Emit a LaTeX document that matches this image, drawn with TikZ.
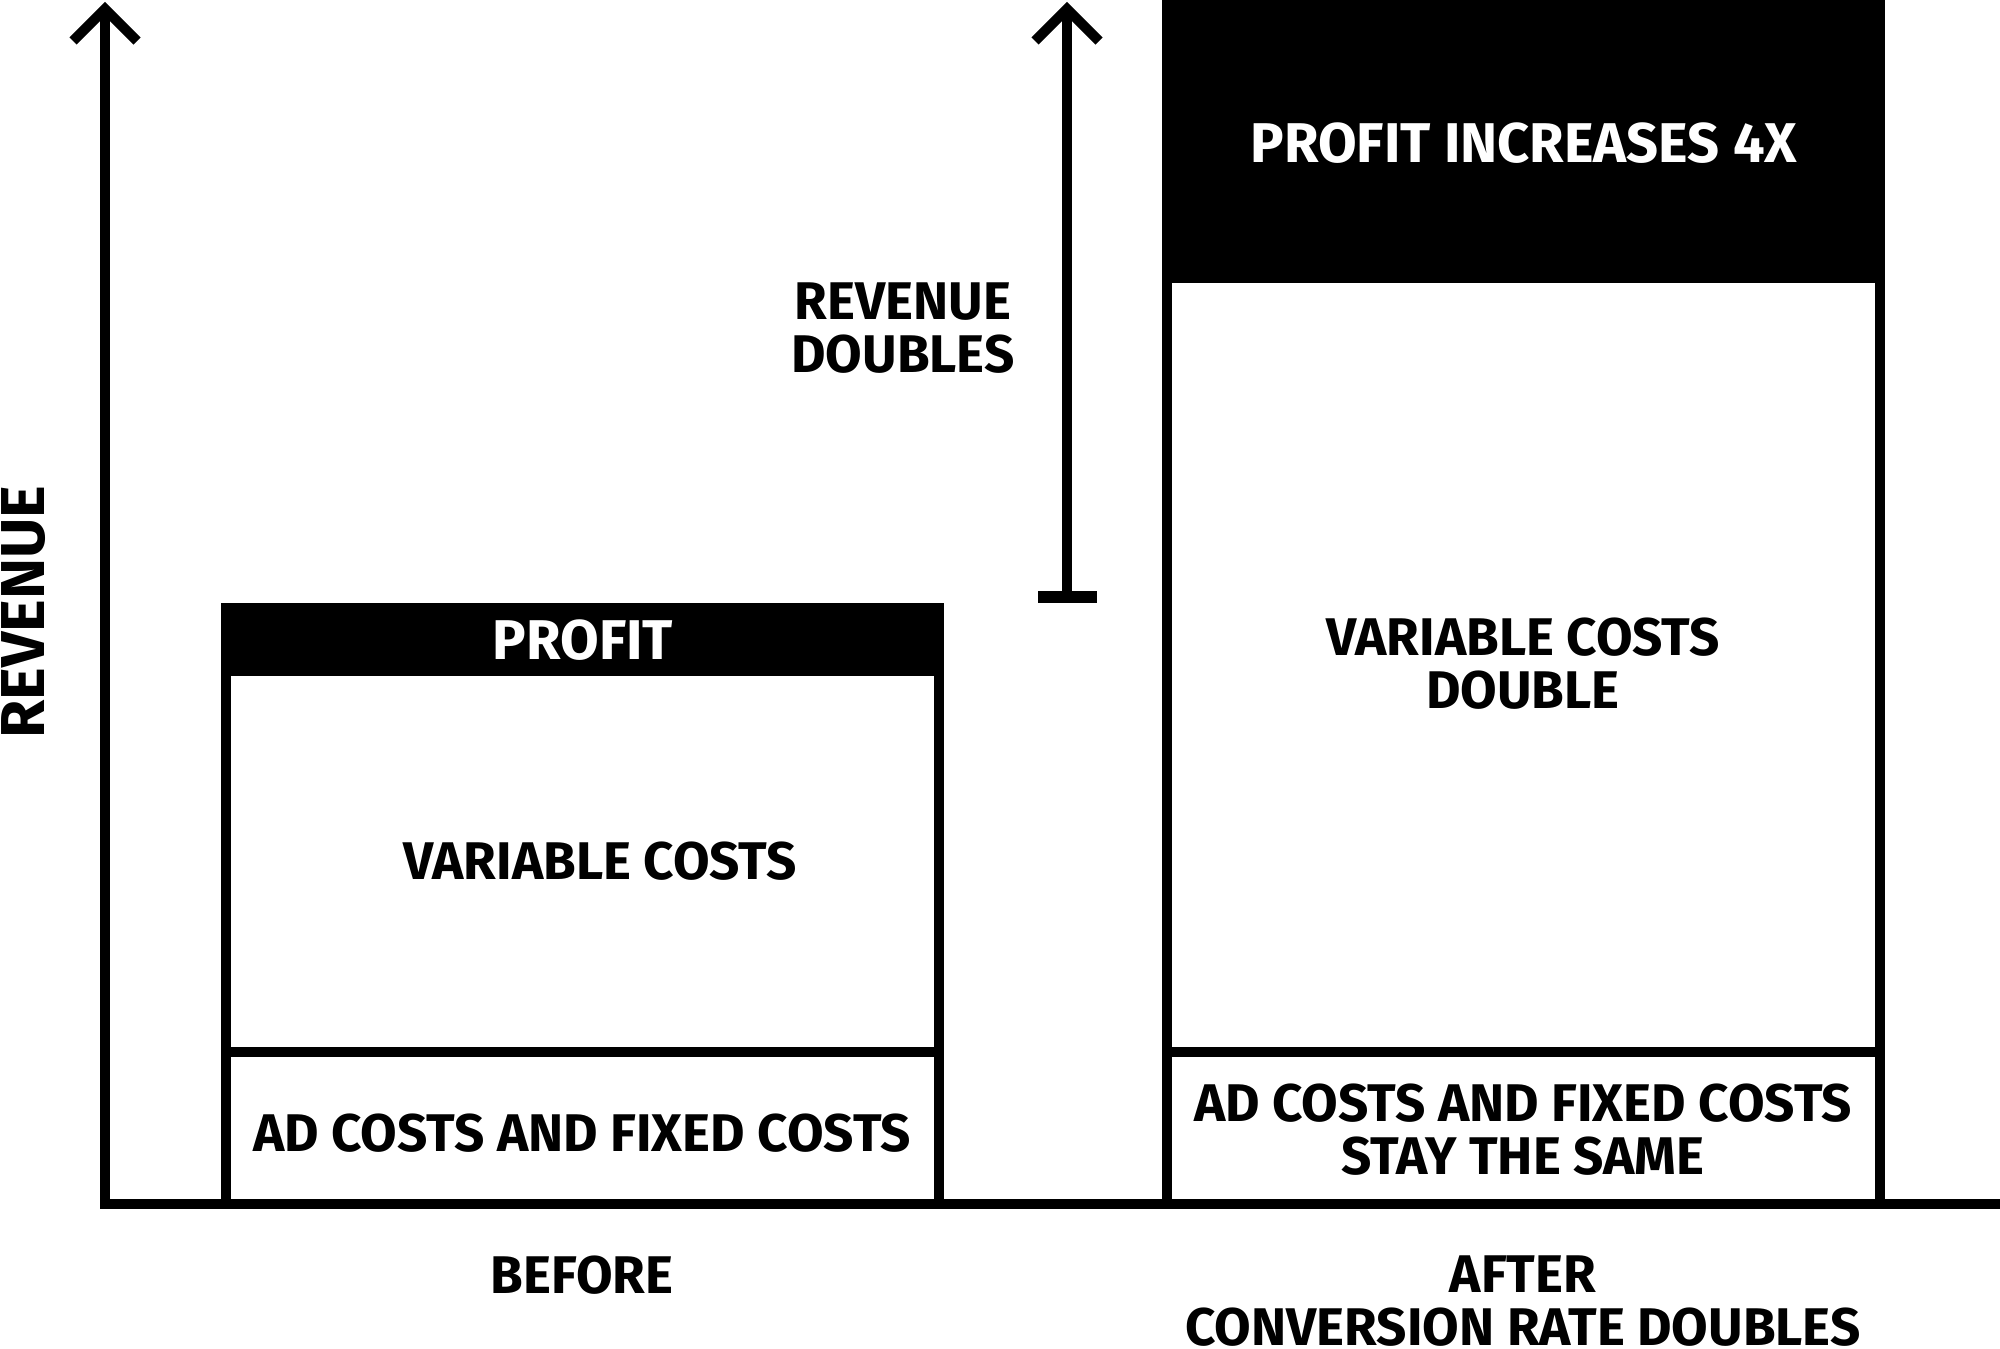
\documentclass[tikz,border=0pt]{standalone}
\usepackage{fontspec}
\setmainfont{Fira Sans}
\begin{document}
\begin{tikzpicture}[x=1pt,y=-1pt,line width=10pt,line join=miter,
  lbl/.style={font=\bfseries\fontsize{53}{53}\selectfont,align=center,inner sep=0pt,text=black},
  wlbl/.style={font=\bfseries\fontsize{56}{56}\selectfont,align=center,inner sep=0pt,text=white},
  axlbl/.style={font=\bfseries\fontsize{62}{62}\selectfont,inner sep=0pt,text=black,rotate=90},
  barline/.style={line width=10pt}]
\useasboundingbox (0,0) rectangle (2000,1349);
\fill[white] (0,0) rectangle (2000,1349);
% axes
\coordinate (O) at (105,1204);
\coordinate (Ytop) at (105,9);
\coordinate (Xend) at (2000,1204);
\draw (Ytop) -- (O) -- (Xend);
\draw (73,41) -- (Ytop) -- (137,41);
% revenue doubles arrow
\coordinate (Mtop) at (1067,9);
\coordinate (Mbot) at (1067,597);
\draw (Mtop) -- (Mbot);
\draw (1035,41) -- (Mtop) -- (1099,41);
\draw[line width=12pt] (1038,597) -- (1097,597);
% left bar
\fill[black] (221,603) rectangle (944,676);
\draw[barline] (226,608) rectangle (939,1204);
\draw[barline] (226,1052) -- (939,1052);
% right bar
\fill[black] (1162,0) rectangle (1885,283);
\draw[barline] (1167,0) -- (1167,1204);
\draw[barline] (1880,0) -- (1880,1204);
\draw[barline] (1167,1052) -- (1880,1052);
% labels
\node[wlbl] (profit) at (583,640) {PROFIT};
\node[lbl] (varc) at (600,861) {VARIABLE COSTS};
\node[lbl] (adc) at (582,1133) {AD COSTS AND FIXED COSTS};
\node[lbl] (before) at (582,1275) {BEFORE};
\node[wlbl] (profit4) at (1524,143) {PROFIT INCREASES 4X};
\node[lbl] (varc2) at (1523,664) {VARIABLE COSTS\\DOUBLE};
\node[lbl] (adc2) at (1523,1130) {AD COSTS AND FIXED COSTS\\STAY THE SAME};
\node[lbl] (after) at (1523,1301) {AFTER\\CONVERSION RATE DOUBLES};
\node[lbl] (revd) at (903,328) {REVENUE\\DOUBLES};
\node[axlbl] (rev) at (24,612) {REVENUE};
\end{tikzpicture}
\end{document}
